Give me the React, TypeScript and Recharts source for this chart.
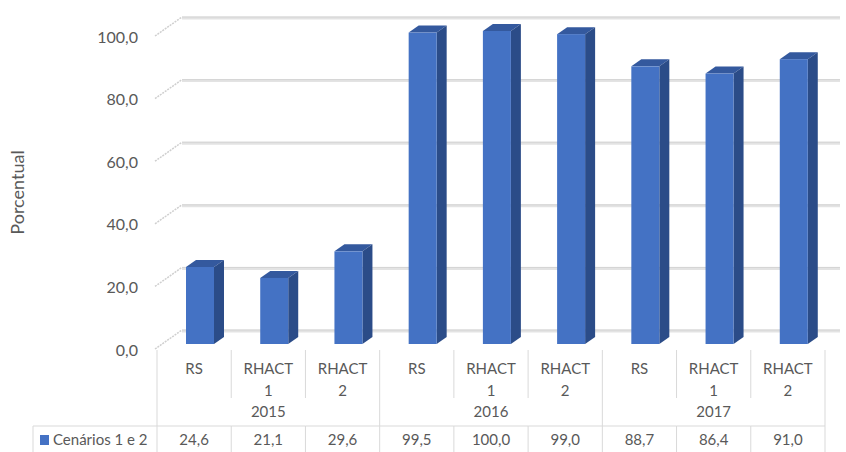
import { BarChart, Bar, XAxis, YAxis, CartesianGrid } from 'recharts';

const categoryNames = ['RS', 'RHACT 1', 'RHACT 2', 'RS', 'RHACT 1', 'RHACT 2', 'RS', 'RHACT 1', 'RHACT 2'];
const years = ['2015', '2015', '2015', '2016', '2016', '2016', '2017', '2017', '2017'];
const cenarios = [24.6, 21.1, 29.6, 99.5, 100.0, 99.0, 88.7, 86.4, 91.0];
const yTicks = [0, 20, 40, 60, 80, 100];
const seriesName = 'Cenários 1 e 2';

const chartData = categoryNames.map((name, i) => ({ name, year: years[i], value: cenarios[i] }));

const W = 846;
const H = 452;
const X_H = 103;
const MARGIN = { top: 36, right: 21, bottom: 0, left: 0 };
const Y_W = 157;
const PLOT_BOTTOM = H - X_H;
const BAND = (W - MARGIN.right - Y_W) / categoryNames.length;
const FONT = 'Lato, "Liberation Sans", sans-serif';
const TEXT = '#595959';
const LINE = '#d9d9d9';
const BLUE = '#4472C4';

const fmt = (v: number) => v.toFixed(1).replace('.', ',');

// 3D-looking column
const Bar3D = (props: any) => {
  const { x, y, width, height } = props;
  if (height == null || height <= 0) return null;
  const fx = x + 6;
  const fy = y - 5;
  const dx = 10;
  const dy = 7;
  return (
    <g>
      <polygon
        points={`${fx},${fy} ${fx + dx},${fy - dy} ${fx + width + dx},${fy - dy} ${fx + width},${fy}`}
        fill="#34599E"
      />
      <polygon
        points={`${fx + width},${fy} ${fx + width + dx},${fy - dy} ${fx + width + dx},${fy + height - dy} ${fx + width},${fy + height}`}
        fill="#2B4C88"
      />
      <rect x={fx} y={fy} width={width} height={height} fill={BLUE} />
    </g>
  );
};

const GridLine = (p: any) => {
  const { x1, x2, y1, key } = p;
  const bx = x1 + 25;
  const by = y1 - 19;
  return (
    <g key={key}>
      <line x1={x1 - 2} y1={y1} x2={bx} y2={by} stroke="#cfcfcf" strokeWidth={1.5} strokeDasharray="2 1" />
      <line x1={bx} y1={by + 1} x2={x2 + 15} y2={by + 1} stroke="#e3e3e3" strokeWidth={3} />
      <line x1={bx} y1={by} x2={x2 + 15} y2={by} stroke="#d4d4d4" strokeWidth={1} />
    </g>
  );
};

const YTick = (props: any) => {
  const { y, payload } = props;
  return (
    <text x={138} y={y} textAnchor="end" dominantBaseline="central" fill={TEXT} fontSize={16} fontFamily={FONT}>
      {fmt(payload.value)}
    </text>
  );
};

const TableTick = (props: any) => {
  const { x, payload } = props;
  const i: number = payload.index;
  const left = x - BAND / 2;
  const right = x + BAND / 2;
  const top = PLOT_BOTTOM + 1;
  const rowY = 426;
  const groupStart = i % 3 === 0;
  const lines = categoryNames[i].split(' ');
  const txt = { fill: TEXT, fontSize: 15, fontFamily: FONT, textAnchor: 'middle' as const, dominantBaseline: 'central' as const };
  return (
    <g>
      {lines.map((l, k) => (
        <text key={k} x={x} y={top + 18 + k * 22} {...txt}>{l}</text>
      ))}
      {i % 3 === 1 && <text x={x} y={411} {...txt}>{years[i]}</text>}
      <text x={x} y={439} {...txt}>{fmt(cenarios[i])}</text>
      <line x1={left} x2={left} y1={top} y2={groupStart ? H : top + 48} stroke={LINE} />
      {!groupStart && <line x1={left} x2={left} y1={rowY} y2={H} stroke={LINE} />}
      {i === categoryNames.length - 1 && <line x1={right} x2={right} y1={top} y2={H} stroke={LINE} />}
      <line x1={left} x2={right} y1={rowY} y2={rowY} stroke={LINE} />
      {i === 0 && (
        <g>
          <line x1={33} x2={left} y1={rowY} y2={rowY} stroke={LINE} />
          <line x1={33} x2={33} y1={rowY} y2={H} stroke={LINE} />
          <rect x={40} y={435} width={9} height={10} fill={BLUE} />
          <text x={53} y={439} fill={TEXT} fontSize={15} fontFamily={FONT} dominantBaseline="central">{seriesName}</text>
        </g>
      )}
    </g>
  );
};

export default function App() {
  return (
    <div style={{ position: 'absolute', left: 0, top: 0, width: W, height: H, background: '#fff' }}>
      <BarChart width={W} height={H} data={chartData} margin={MARGIN}>
        <CartesianGrid vertical={false} horizontal={GridLine as any} />
        <XAxis
          dataKey="name"
          interval={0}
          height={X_H}
          axisLine={false}
          tickLine={false}
          tick={TableTick}
        />
        <YAxis
          width={Y_W}
          domain={[0, 100]}
          ticks={yTicks}
          axisLine={false}
          tickLine={false}
          tick={YTick}
          label={{ value: 'Porcentual', angle: -90, position: 'center', dx: -61, fill: TEXT, fontSize: 18, fontFamily: FONT }}
        />
        <Bar dataKey="value" name={seriesName} barSize={28} shape={Bar3D} isAnimationActive={false} />
      </BarChart>
    </div>
  );
}
